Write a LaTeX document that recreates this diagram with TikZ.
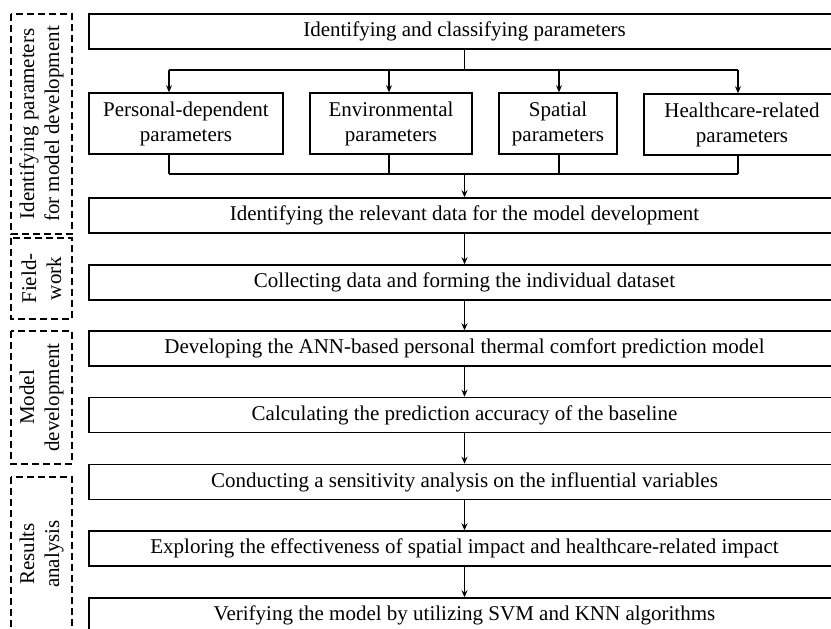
\documentclass[tikz,border=0pt]{standalone}
\usepackage{fontspec}
\setmainfont{Liberation Serif}
\usetikzlibrary{arrows.meta}

\begin{document}
\begin{tikzpicture}[x=0.5pt,y=-0.5pt]
    % Define styles for boxes and arrows
    \tikzstyle{stepbox}=[draw,line width=0.75pt,minimum width=375.5pt,minimum height=17.5pt,inner sep=1pt,font=\fontsize{10.5}{12.5}\selectfont]
    \tikzstyle{parambox}=[draw,line width=0.75pt,minimum height=30.5pt,inner sep=1pt,align=center,font=\fontsize{10.5}{12.5}\selectfont]
    \tikzstyle{phasebox}=[draw,line width=0.8pt,dash pattern=on 3.5pt off 2pt,rotate=90,minimum height=30.5pt,inner sep=1pt,align=center,font=\fontsize{10.5}{12.5}\selectfont]
    \tikzstyle{arr}=[line width=0.7pt,-{Stealth[length=3.5pt,width=3pt]}]

    \useasboundingbox (0,0) rectangle (831,628);
    \clip (0,0) rectangle (831,628);

    % Phase boxes on the left
    \foreach \y/\h/\name/\txt in {124/110/ph1/{Identifying parameters\\for model development},
                                  278.5/40.5/ph2/{Field-\\work},
                                  397.5/66.5/ph3/{Model\\development},
                                  554/77/ph4/{Results\\analysis}}{
        \node[phasebox,minimum width=\h pt] (\name) at (41.5,\y) {\txt};
    }

    % Main steps
    \foreach \y/\name/\txt in {31.5/top/{Identifying and classifying parameters},
                               215.5/rel/{Identifying the relevant data for the model development},
                               282.5/coll/{Collecting data and forming the individual dataset},
                               348.5/dev/{Developing the ANN-based personal thermal comfort prediction model},
                               415/calc/{Calculating the prediction accuracy of the baseline},
                               482/sens/{Conducting a sensitivity analysis on the influential variables},
                               548.5/expl/{Exploring the effectiveness of spatial impact and healthcare-related impact},
                               615.5/verif/{Verifying the model by utilizing SVM and KNN algorithms}}{
        \node[stepbox] (\name) at (464.5,\y) {\txt};
    }

    % Parameter groups
    \node[parambox,minimum width=97pt] (pers) at (186,123.5) {Personal-dependent\\parameters};
    \node[parambox,minimum width=81pt] (env) at (391,123.5) {Environmental\\parameters};
    \node[parambox,minimum width=59pt] (spat) at (558,123.5) {Spatial\\parameters};
    \node[parambox,minimum width=98pt] (health) at (742,124.5) {Healthcare-related\\parameters};

    % Split and merge lines
    \coordinate (split) at (464.5,70);
    \coordinate (merge) at (464.5,174);
    \draw[line width=0.7pt] (top.south) -- (split);
    \foreach \name/\x in {pers/169,env/389,spat/559,health/738}{
        \coordinate (\name-t) at (\x,70);
        \coordinate (\name-b) at (\x,174);
        \draw[arr] (\name-t) -- (\name-t |- \name.north);
        \draw[line width=0.7pt] (\name-t |- \name.south) -- (\name-b);
    }
    \draw[line width=0.7pt] (pers-t) -- (health-t);
    \draw[line width=0.7pt] (pers-b) -- (health-b);
    \draw[arr] (merge) -- (rel.north);

    % Step arrows
    \foreach \a/\b in {rel/coll,coll/dev,dev/calc,calc/sens,sens/expl,expl/verif}{
        \draw[arr] (\a.south) -- (\b.north);
    }
\end{tikzpicture}
\end{document}
